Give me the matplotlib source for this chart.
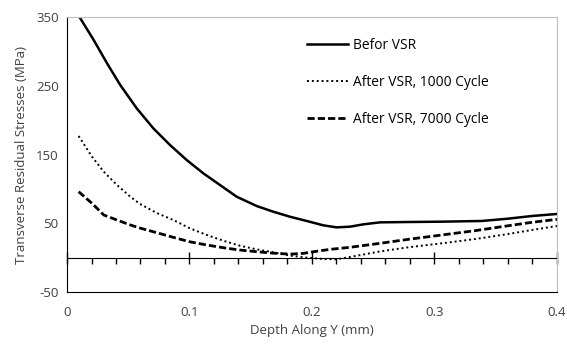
import matplotlib.pyplot as plt
import numpy as np

# Depth along Y (mm) and stresses (MPa)
depth_befor = [0.0095, 0.0218, 0.0327, 0.0435, 0.0569, 0.0705, 0.0841, 0.0977, 0.1113,
               0.1249, 0.1385, 0.1549, 0.1684, 0.182, 0.1957, 0.2092, 0.2201,
               0.231, 0.2419, 0.2555, 0.2786, 0.3059, 0.3385, 0.3603, 0.3793, 0.4]
stress_befor = [352, 316.5, 282.6, 251, 217.2, 188, 163.8, 142, 122.6,
                105.6, 88.6, 75, 66.8, 59.5, 53.3, 47, 44,
                45, 48.4, 51.3, 51.8, 52.3, 53.3, 56.7, 60.5, 63.5]

depth_1000 = [0.0095, 0.0204, 0.030, 0.0408, 0.0517, 0.0596, 0.0732, 0.0868, 0.1004,
              0.114, 0.1276, 0.1412, 0.1549, 0.1657, 0.182, 0.1957, 0.2092, 0.22,
              0.231, 0.2419, 0.2555, 0.2786, 0.3059, 0.3331, 0.3603, 0.3793, 0.4]
stress_1000 = [176.9, 146.8, 125, 105.6, 88.6, 78, 65, 54.7, 42.6,
               33, 24.6, 17.3, 12, 8.6, 3, 0, -2, -2.5,
               1, 4.5, 9, 15, 20.8, 27, 34.4, 40.2, 46]

depth_7000 = [0.0095, 0.0204, 0.030, 0.0408, 0.0517, 0.0596, 0.0732, 0.0868, 0.1004,
              0.114, 0.1276, 0.1412, 0.1549, 0.1684, 0.182, 0.193, 0.2013,
              0.2147, 0.231, 0.2555, 0.2786, 0.3059, 0.3331, 0.3603, 0.3793, 0.4]
stress_7000 = [95.9, 79, 62, 54.7, 47.5, 43, 36.3, 29.5, 23,
               18.4, 14.4, 11, 8.6, 6.5, 5.1, 6.2, 8.6,
               12, 15, 20.8, 26.6, 32.9, 39.2, 46.4, 51.3, 55.7]

labels = ["Befor VSR", "After VSR, 1000 Cycle", "After VSR, 7000 Cycle"]
xticks = [0, 0.1, 0.2, 0.3, 0.4]
xticklabels = ["0", "0.1", "0.2", "0.3", "0.4"]
yticks = [-50, 50, 150, 250, 350]

txt = "#404040"
plt.rcParams['font.family'] = ['Open Sans', 'DejaVu Sans']
plt.rcParams['axes.unicode_minus'] = False

fig = plt.figure(figsize=(5.67, 3.45), dpi=100)
ax = fig.add_axes([67/567, 1 - 292/345, (557-67)/567, (292-17)/345])

ax.plot(depth_befor, stress_befor, color="black", lw=1.8, ls="-", label=labels[0])
ax.plot(depth_1000, stress_1000, color="black", lw=1.4, ls=(0, (1, 1.5)), label=labels[1])
ax.plot(depth_7000, stress_7000, color="black", lw=2.0, ls=(0, (2.6, 1.1)), label=labels[2])

ax.set_xlim(0, 0.4)
ax.set_ylim(-50, 350)
ax.set_xticks(xticks)
ax.set_xticklabels(xticklabels)
ax.set_yticks(yticks)
ax.tick_params(length=0, labelsize=9.5, labelcolor=txt, pad=10)
ax.tick_params(axis="y", pad=6)

ax.spines["top"].set_color("#bfbfbf")
ax.spines["right"].set_color("#bfbfbf")
ax.spines["left"].set_color("black")
ax.spines["bottom"].set_color("black")

# zero line with tick marks, like the Excel category axis
sec = ax.secondary_xaxis(50/400)
sec.set_xticks(xticks)
sec.set_xticks(np.arange(0, 0.401, 0.02), minor=True)
sec.tick_params(which="major", direction="inout", length=8, width=1, labelbottom=False)
sec.tick_params(which="minor", direction="out", length=4, width=1)
sec.spines["bottom"].set_color("black")

ax.set_xlabel("Depth Along Y (mm)", fontsize=9.5, color=txt, labelpad=4)
ax.set_ylabel("Transverse Residual Stresses (MPa)", fontsize=9.5, color=txt, labelpad=6)

ax.legend(loc="upper left", bbox_to_anchor=(0.465, 0.97), frameon=False, fontsize=9.9,
          handlelength=3.0, labelspacing=1.6, handletextpad=0.35, labelcolor="black")

fig.savefig("out.png", dpi=100)
